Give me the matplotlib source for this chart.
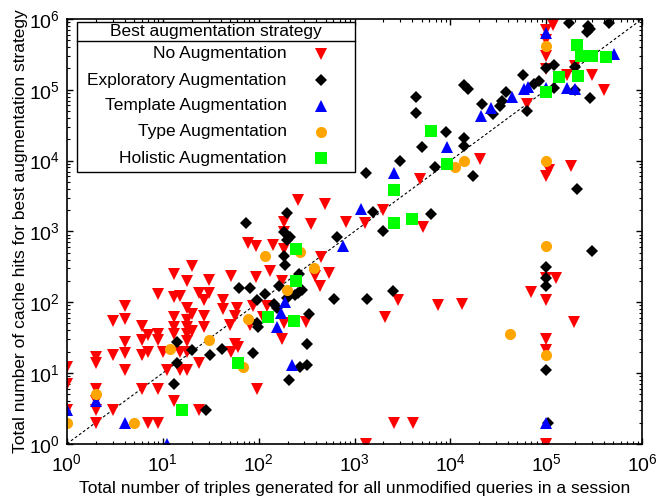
import numpy as np
import matplotlib
matplotlib.use('Agg')
import matplotlib.pyplot as plt
from matplotlib.patches import Rectangle

plt.rcParams['font.family'] = ['Liberation Sans', 'DejaVu Sans']
plt.rcParams['mathtext.fontset'] = 'custom'
plt.rcParams['mathtext.rm'] = 'Liberation Sans'
plt.rcParams['mathtext.it'] = 'Liberation Sans:italic'

# No Augmentation
no_x = [1, 1, 1, 2, 2, 2, 2, 2, 2, 3, 3, 3, 4, 4, 4, 4, 4, 6, 6, 6, 6, 7, 7, 7,
        9, 9, 9, 9, 9, 10, 11, 13, 13, 13, 13, 13, 13, 15, 15, 15,
        18, 18, 18, 18, 18, 18, 18, 18, 20, 20, 20, 24, 24, 24, 27, 27, 27, 30, 30,
        42, 42, 51, 50, 52, 57, 57, 59, 61, 77, 81, 87, 94, 94, 96, 110, 122, 131, 140,
        174, 174, 184, 184, 184, 185, 254, 311, 350, 388, 438, 443, 493, 540, 817,
        1297, 1306, 1973, 2086, 2590, 2871, 4060, 4808, 5140, 7330, 13180, 20140,
        63380, 69200, 1e5, 1e5, 1e5, 1e5, 1e5, 107000, 1e5, 1e5, 1e5, 1e5, 1e5,
        118000, 126000, 166000, 182000, 193000, 201000, 299000, 397000]
no_y = [12, 7, 3, 17, 14, 6, 4, 3, 2, 55, 18, 3, 89, 58, 27, 19, 11, 46, 29, 18, 6, 34, 20, 2,
        130, 35, 29, 6, 2, 20, 11, 250, 120, 62, 45, 36, 4, 123, 20, 11,
        196, 84, 56, 44, 35, 28, 20, 11, 320, 69, 39, 134, 14, 3, 108, 63, 45, 207, 134,
        108, 80, 238, 48, 20, 63, 26, 83, 23, 680, 47, 87, 630, 226, 6, 62, 89, 280, 650,
        202, 30, 1340, 970, 50, 568, 2800, 53, 1268, 238, 168, 433, 2455, 260, 1336,
        1300, 1, 1973, 61, 2, 106, 2, 5480, 1135, 90, 95, 10600,
        63400, 137, 703000, 508000, 302000, 198000, 6000, 7244, 221, 108, 30, 21, 1,
        828000, 223, 163000, 8450, 52, 215000, 163000, 100000]

# Exploratory Augmentation
ex_x = [13, 14, 14, 20, 28, 31, 41, 62, 73, 81, 87, 96, 96, 98, 116, 146, 157, 162,
        184, 196, 184, 189, 199, 213, 196, 209, 240, 260, 282, 262, 270, 322, 318, 338,
        617, 661, 1361, 1575, 1322, 1990, 2512, 3013, 4400, 4400, 4990, 6230, 6940, 9040,
        13700, 15100, 13900, 13900, 17200, 21300, 27800, 33100, 34200, 37600, 56500, 63400,
        75000, 83500, 1e5, 1e5, 1e5, 1e5, 1e5, 103000, 120000, 119000, 171000, 201000,
        199000, 207000, 270000, 288000, 268000, 283000, 297000, 452000]
ex_y = [7, 27, 14, 21, 3, 18, 22, 158, 1310, 158, 19, 106, 51, 44, 130, 94, 83, 171,
        965, 761, 452, 330, 1813, 830, 114, 8, 127, 134, 150, 250, 12, 13, 26, 68,
        111, 830, 112, 1875, 6660, 1010, 142, 10000, 78900, 46900, 15300, 1745, 8040, 24900,
        118000, 102000, 20800, 15800, 6100, 63400, 45800, 59400, 70000, 92900, 160000, 50500,
        122000, 131000, 201000, 309, 223, 167, 11, 2, 225000, 107000, 875000, 208000,
        100000, 4020, 789000, 720000, 659000, 76400, 532, 861000]

# Template Augmentation
tp_x = [1, 2, 4, 11, 157, 172, 189, 222, 755, 1172, 2590, 9190, 20800, 26200, 43700,
        58500, 64100, 1e5, 1e5, 1e5, 163000, 201000, 509000]
tp_y = [3, 4, 2, 1, 45, 71, 102, 13, 620, 2050, 6730, 15500, 42900, 54400, 77800,
        104000, 110000, 632000, 105000, 2, 106000, 104000, 320000]

# Type Augmentation
ty_x = [1, 2, 5, 12, 30, 68, 78, 116, 196, 270, 381, 11100, 13800, 42100,
        1e5, 1e5, 1e5, 1e5]
ty_y = [2, 5, 2, 22, 29, 12, 57, 452, 150, 510, 303, 8000, 9840, 35,
        409000, 9860, 626, 18]

# Holistic Augmentation
ho_x = [16, 61, 124, 234, 246, 246, 2590, 2590, 3960, 6260, 9190, 1e5, 137000,
        209000, 216000, 232000, 302000, 423000]
ho_y = [3, 14, 61, 55, 202, 568, 3870, 1310, 1510, 25800, 8930, 93700, 149000,
        421000, 158000, 302000, 302000, 290000]

labels = ['No Augmentation', 'Exploratory Augmentation', 'Template Augmentation',
          'Type Augmentation', 'Holistic Augmentation']

series = [(no_x, no_y, 'v', '#ff0000', 8),
          (ex_x, ex_y, 'D', '#000000', 6.5),
          (tp_x, tp_y, '^', '#0000ff', 8),
          (ty_x, ty_y, 'o', '#ffa500', 8),
          (ho_x, ho_y, 's', '#00ff00', 8)]

fig = plt.figure(figsize=(6.56, 4.97), dpi=100)
ax = fig.add_axes([0.102, 0.107, 0.877, 0.855])

ax.plot([1, 1e6], [1, 1e6], color='k', lw=0.8, ls=(0, (2.5, 2)))
for xs, ys, m, c, ms in series:
    ax.plot(xs, ys, ls='none', marker=m, color=c, ms=ms, mec=c, mew=0)

ax.set_xscale('log')
ax.set_yscale('log')
ax.set_xlim(1, 1e6)
ax.set_ylim(1, 1e6)
ax.tick_params(which='both', direction='in', top=True, right=True, labelsize=14)
ax.tick_params(axis='x', pad=6.5)
ax.tick_params(axis='y', pad=5)
ax.tick_params(which='major', length=4.5, width=1)
ax.tick_params(which='minor', length=2.5, width=0.8)
for s in ax.spines.values():
    s.set_linewidth(1.2)
ax.set_xlabel('Total number of triples generated for all unmodified queries in a session',
              fontsize=12.5, labelpad=4.5)
ax.set_ylabel('Total number of cache hits for best augmentation strategy',
              fontsize=12.5, labelpad=1)

# legend box in gnuplot style
tr = ax.transAxes
ax.add_patch(Rectangle((0.0174, 0.64), 0.4838, 0.353, transform=tr, fill=True,
                       facecolor='white', edgecolor='k', lw=1, zorder=5))
ax.plot([0.0174, 0.5012], [0.948, 0.948], transform=tr, color='k', lw=1, zorder=6)
ax.text(0.259, 0.970, 'Best augmentation strategy', transform=tr, ha='center',
        va='center', fontsize=12.5, zorder=6)
ys_leg = [0.918, 0.856, 0.795, 0.734, 0.672]
for (xs, ys, m, c, ms), lab, yl in zip(series, labels, ys_leg):
    ax.text(0.382, yl, lab, transform=tr, ha='right', va='center', fontsize=12.5, zorder=6)
    ax.plot([0.442], [yl], transform=tr, ls='none', marker=m, color=c, ms=ms,
            mew=0, zorder=6, clip_on=False)

fig.savefig('out.png', dpi=100)
